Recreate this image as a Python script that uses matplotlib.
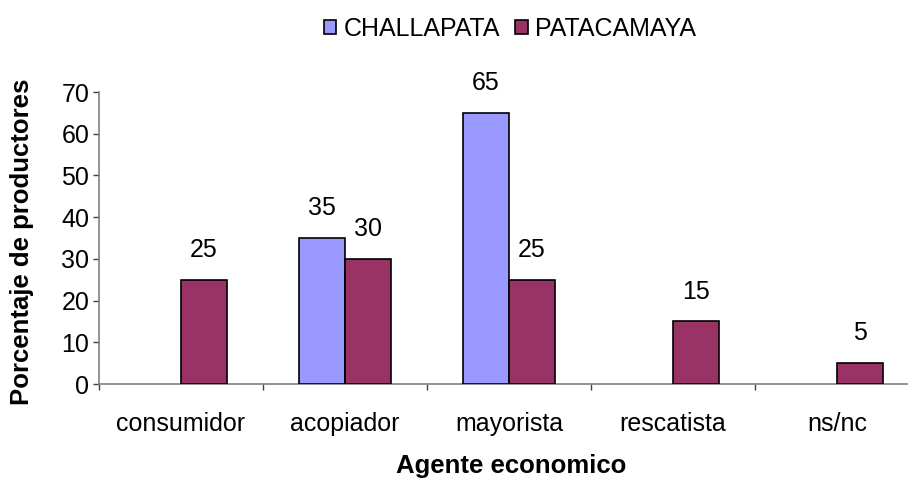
import matplotlib
matplotlib.use("Agg")
import matplotlib.pyplot as plt
import numpy as np

categories = ["consumidor", "acopiador", "mayorista", "rescatista", "ns/nc"]
challapata = [0, 35, 65, 0, 0]
patacamaya = [25, 30, 25, 15, 5]
series_names = ["CHALLAPATA", "PATACAMAYA"]
yticks = [0, 10, 20, 30, 40, 50, 60, 70]

plt.rcParams['font.family'] = ['Liberation Sans', 'DejaVu Sans']
FS = 18
FSB = 18.5

W, H = 908, 478
fig = plt.figure(figsize=(W / 100, H / 100), dpi=100)
ax = fig.add_axes([99 / W, 1 - 384 / H, 820 / W, (384 - 92) / H])

colors = ["#9999FF", "#993366"]
bw = 0.28
centers = np.arange(len(categories)) + 0.5
handles = []
for k, (vals, off) in enumerate([(challapata, -bw / 2), (patacamaya, bw / 2)]):
    vals = np.array(vals, dtype=float)
    idx = np.where(vals > 0)[0]
    bars = ax.bar(centers[idx] + off, vals[idx], width=bw, color=colors[k],
                  edgecolor="black", linewidth=1.2, label=series_names[k], zorder=3)
    handles.append(bars)
    for i in idx:
        ax.annotate(f"{int(vals[i])}", (centers[i] + off, vals[i]),
                    xytext=(0, 21.5), textcoords="offset points",
                    ha="center", va="center", fontsize=FS, color="black")

ax.set_xlim(0, len(categories))
ax.set_ylim(0, 70)
ax.set_yticks(yticks)
ax.set_yticklabels([str(v) for v in yticks], fontsize=FS)
ax.set_xticks(centers)
ax.set_xticklabels(categories, fontsize=FS)
ax.set_xticks(np.arange(len(categories) + 1), minor=True)
ax.tick_params(axis="x", which="major", length=0, pad=20)
ax.tick_params(axis="x", which="minor", length=4, width=1, color="#404040", direction="out")
ax.tick_params(axis="y", which="major", length=4, width=1, color="#404040", direction="out", pad=3)

for s in ["top", "right"]:
    ax.spines[s].set_visible(False)
for s in ["left", "bottom"]:
    ax.spines[s].set_color("#808080")
    ax.spines[s].set_linewidth(1.2)

fig.text(22 / W, 1 - 242 / H, "Porcentaje de productores", rotation=90,
         ha="center", va="center", fontsize=FSB, fontweight="bold")
fig.text(511 / W, 1 - 466 / H, "Agente economico", ha="center", va="center",
         fontsize=FSB, fontweight="bold")

leg = fig.legend(handles=handles, labels=series_names, loc="center",
                 bbox_to_anchor=(510 / W, 1 - 29 / H), ncol=2, frameon=False,
                 fontsize=FS, handlelength=0.5, handleheight=0.5,
                 handletextpad=0.3, columnspacing=0.6, borderaxespad=0)

fig.savefig("out.png", dpi=100)
